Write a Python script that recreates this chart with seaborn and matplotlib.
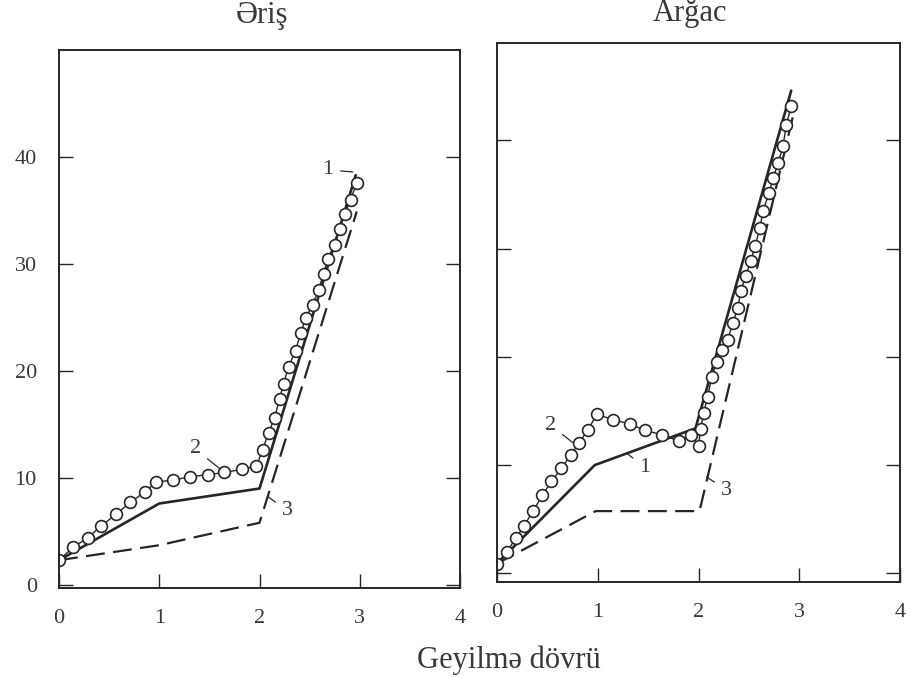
import matplotlib
matplotlib.use("Agg")
import matplotlib.pyplot as plt
import seaborn as sns

# --- Əriş (warp) ---
warp_line_x = [0, 1.0, 2.0, 2.96]
warp_line_y = [2.3, 7.6, 9.0, 38.3]
warp_circ_x = [0, 0.14, 0.29, 0.42, 0.57, 0.71, 0.86, 0.97, 1.14, 1.31, 1.49, 1.65,
               1.83, 1.97, 2.03, 2.09, 2.15, 2.20, 2.24, 2.29, 2.36, 2.41, 2.46, 2.53,
               2.59, 2.64, 2.68, 2.75, 2.80, 2.85, 2.91, 2.97]
warp_circ_y = [2.3, 3.5, 4.4, 5.5, 6.6, 7.7, 8.7, 9.6, 9.8, 10.1, 10.3, 10.5,
               10.8, 11.1, 12.6, 14.2, 15.6, 17.4, 18.8, 20.4, 21.9, 23.5, 24.9, 26.2,
               27.6, 29.1, 30.5, 31.8, 33.3, 34.7, 36.0, 37.6]
warp_dash_x = [0, 1.0, 2.0, 2.97]
warp_dash_y = [2.3, 3.7, 5.8, 34.9]

# --- Arğac (weft) ---
weft_line_x = [0, 0.97, 1.97, 2.92]
weft_line_y = [0.9, 10.0, 13.4, 44.6]
weft_circ_x = [0, 0.10, 0.19, 0.27, 0.36, 0.45, 0.54, 0.64, 0.73, 0.81, 0.90, 0.99,
               1.15, 1.32, 1.47, 1.64, 1.81, 1.93, 2.00, 2.02, 2.05, 2.09, 2.13, 2.18,
               2.23, 2.29, 2.34, 2.39, 2.42, 2.47, 2.52, 2.56, 2.61, 2.64, 2.70, 2.74,
               2.79, 2.84, 2.87, 2.92]
weft_circ_y = [0.9, 2.0, 3.3, 4.4, 5.8, 7.2, 8.5, 9.7, 10.9, 12.0, 13.2, 14.7,
               14.2, 13.8, 13.2, 12.8, 12.2, 12.8, 11.8, 13.3, 14.8, 16.3, 18.1, 19.5,
               20.6, 21.6, 23.1, 24.5, 26.1, 27.5, 28.9, 30.2, 31.9, 33.5, 35.1, 36.5,
               37.9, 39.5, 41.4, 43.2]
weft_dash_x = [0, 0.98, 2.01, 2.97]
weft_dash_y = [0.9, 5.75, 5.75, 43.5]

x_ticks = [0, 1, 2, 3, 4]
y_ticks = [0, 10, 20, 30, 40]
titles = ["Əriş", "Arğac"]
x_label = "Geyilmə dövrü"

sns.set_theme(style="ticks")
serif = ["Liberation Serif", "DejaVu Serif"]
plt.rcParams["font.family"] = serif
plt.rcParams["xtick.direction"] = "in"
plt.rcParams["ytick.direction"] = "in"

INK = "#262626"
TXT = "#3a3a3a"

fig = plt.figure(figsize=(9.06, 6.77), dpi=100)
ax_l = fig.add_axes([59 / 906, 1 - 588 / 677, 401 / 906, 538 / 677])
ax_r = fig.add_axes([497 / 906, 1 - 582 / 677, 403 / 906, 539 / 677])


def draw_panel(ax, lx, ly, cx, cy, dx, dy, ylim):
    sns.lineplot(x=lx, y=ly, ax=ax, color=INK, lw=1.9, sort=False, estimator=None)
    sns.lineplot(x=dx, y=dy, ax=ax, color=INK, lw=1.6, sort=False, estimator=None,
                 linestyle=(0, (8.5, 3.8)))
    sns.lineplot(x=cx, y=cy, ax=ax, color=INK, lw=1.0, sort=False, estimator=None,
                 marker="o", markersize=8.5, markerfacecolor="white",
                 markeredgecolor=INK, markeredgewidth=1.2)
    ax.set_xlim(0, 4)
    ax.set_ylim(*ylim)
    ax.set_xticks(x_ticks)
    ax.set_yticks(y_ticks)
    ax.tick_params(axis="both", which="major", direction="in", length=10, width=1.0,
                   color=INK, labelsize=16, labelcolor=TXT)
    ax.tick_params(axis="x", pad=15, top=False, bottom=True)
    ax.tick_params(axis="y", pad=16, right=True, left=True)
    for sp in ax.spines.values():
        sp.set_visible(True)
        sp.set_color(INK)
        sp.set_linewidth(1.4)
    ax.set_xlabel("")
    ax.set_ylabel("")


draw_panel(ax_l, warp_line_x, warp_line_y, warp_circ_x, warp_circ_y,
           warp_dash_x, warp_dash_y, (-0.3, 50.0))
draw_panel(ax_r, weft_line_x, weft_line_y, weft_circ_x, weft_circ_y,
           weft_dash_x, weft_dash_y, (-0.8, 49.0))
ax_r.tick_params(axis="y", labelleft=False)

# curve numbers with leader strokes
lead = dict(arrowstyle="-", color=INK, lw=0.9, shrinkA=3, shrinkB=0)
num_kw = dict(fontsize=16, color=TXT, ha="center", va="center", arrowprops=lead)
ax_l.annotate("1", xy=(2.93, 38.6), xytext=(2.68, 38.8), **num_kw)
ax_l.annotate("2", xy=(1.61, 10.8), xytext=(1.36, 12.7), **num_kw)
ax_l.annotate("3", xy=(2.09, 8.2), xytext=(2.28, 6.9), **num_kw)
ax_r.annotate("2", xy=(0.75, 12.1), xytext=(0.53, 13.7), **num_kw)
ax_r.annotate("1", xy=(1.30, 11.0), xytext=(1.47, 9.8), **num_kw)
ax_r.annotate("3", xy=(2.08, 8.9), xytext=(2.28, 7.7), **num_kw)

fig.text(262 / 906, 1 - 16 / 677, titles[0], fontsize=22, color=TXT,
         ha="center", va="center")
fig.text(690 / 906, 1 - 14 / 677, titles[1], fontsize=22, color=TXT,
         ha="center", va="center")
fig.text(509 / 906, 1 - 660 / 677, x_label, fontsize=22, color=TXT,
         ha="center", va="center")

fig.savefig("out.png", dpi=100)
